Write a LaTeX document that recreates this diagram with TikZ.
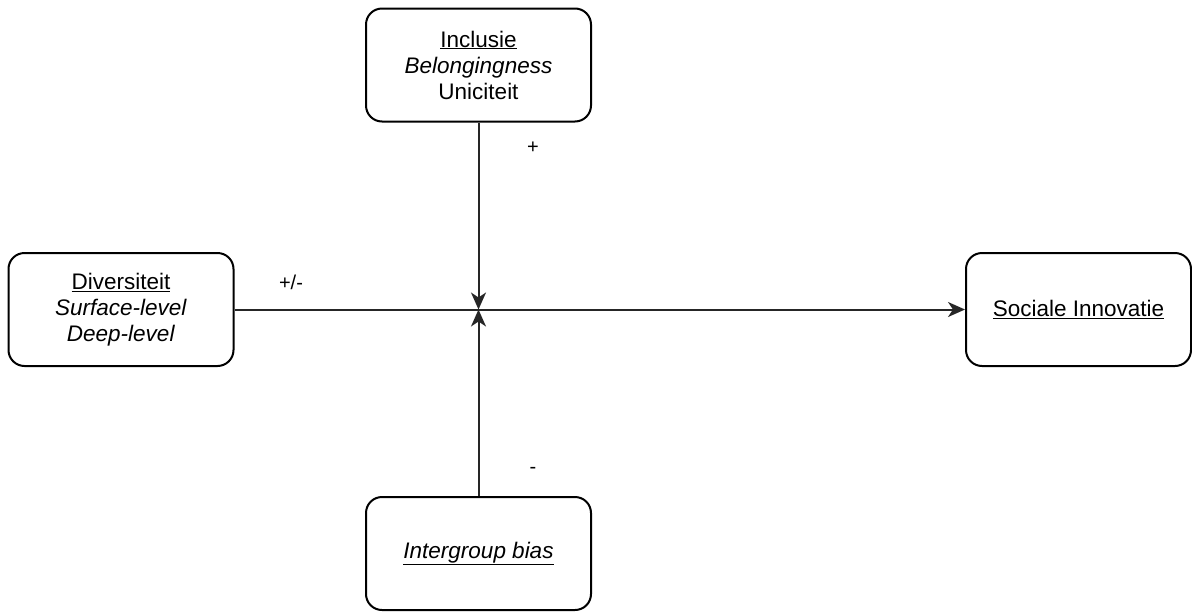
\documentclass[tikz,border=0pt]{standalone}
\usepackage{fontspec}
\setmainfont{Liberation Sans}
\usetikzlibrary{arrows.meta}
\begin{document}
\begin{tikzpicture}[x=1pt,y=-1pt,
  box/.style={draw=black, line width=2pt, rounded corners=16pt, fill=white,
    minimum width=225pt, minimum height=113pt, inner sep=0pt, align=center,
    font=\fontsize{22.5}{26}\selectfont},
  link/.style={draw=black!85, line width=2pt, -{Stealth[length=17pt,width=15pt,inset=5pt]}},
  lbl/.style={font=\fontsize{20}{24}\selectfont, inner sep=0pt}]
\useasboundingbox (0,0) rectangle (1192,611);
\node[box] (inc) at (478.5,65) {\underline{Inclusie}\\\textit{Belongingness}\\Uniciteit};
\node[box] (div) at (121,309.5) {\underline{Diversiteit}\\\textit{Surface-level}\\\textit{Deep-level}};
\node[box] (soc) at (1078.5,309.5) {\underline{Sociale Innovatie}};
\node[box] (ig) at (478.5,553.5) {\underline{\textit{Intergroup bias}}};
\coordinate (mid) at (478.5,309.5);
\draw[link] (div.east) -- (soc.west);
\draw[link] (inc.south) -- (mid);
\draw[link] (ig.north) -- (mid);
\node[lbl] (lp) at (533,148) {+};
\node[lbl] (lpm) at (291,282) {+/-};
\node[lbl] (lm) at (533,470) {-};
\end{tikzpicture}
\end{document}
